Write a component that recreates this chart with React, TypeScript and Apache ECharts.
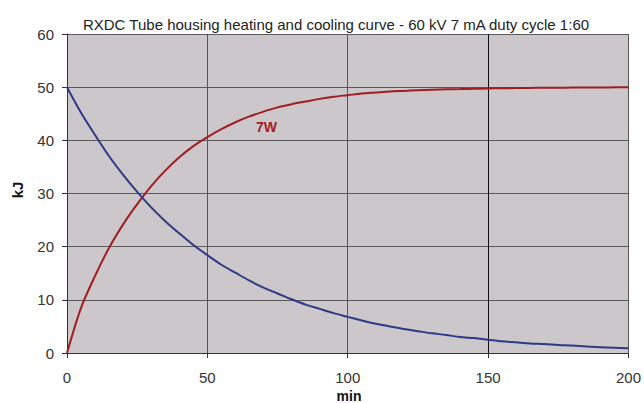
import React, { useEffect, useRef } from "react";
import * as echarts from "echarts";

const title = "RXDC Tube housing heating and cooling curve - 60 kV 7 mA duty cycle 1:60";
const minutes = [0, 5, 10, 15, 20, 25, 30, 35, 40, 45, 50, 55, 60, 65, 70, 75, 80, 85, 90, 95, 100, 105, 110, 115, 120, 125, 130, 135, 140, 145, 150, 155, 160, 165, 170, 175, 180, 185, 190, 195, 200];
const heating = [0, 8.5, 14.5, 19.8, 24.2, 28, 31.4, 34.3, 36.8, 38.9, 40.6, 42.1, 43.4, 44.5, 45.4, 46.2, 46.8, 47.3, 47.8, 48.2, 48.5, 48.8, 49, 49.2, 49.3, 49.4, 49.5, 49.6, 49.65, 49.7, 49.75, 49.8, 49.83, 49.86, 49.88, 49.9, 49.92, 49.94, 49.95, 49.97, 50];
const cooling = [50, 45.2, 41, 37, 33.5, 30.3, 27.4, 24.8, 22.5, 20.3, 18.4, 16.6, 15.1, 13.6, 12.3, 11.2, 10.1, 9.1, 8.3, 7.5, 6.8, 6.1, 5.5, 5, 4.5, 4.1, 3.7, 3.4, 3.0, 2.8, 2.5, 2.2, 2.0, 1.8, 1.7, 1.5, 1.4, 1.2, 1.1, 1.0, 0.9];
const curveLabel = "7W";
const yName = "kJ";
const xName = "min";

export default function App() {
  const ref = useRef<HTMLDivElement>(null);
  useEffect(() => {
    if (!ref.current) return;
    const chart = echarts.init(ref.current, undefined, { renderer: "svg" });
    const font = "Arial, 'Liberation Sans', sans-serif";
    chart.setOption({
      animation: false,
      backgroundColor: "#ffffff",
      grid: {
        left: 67,
        right: 13,
        top: 34,
        bottom: 50,
        show: true,
        backgroundColor: "#cbc7cb",
        borderWidth: 0,
      },
      title: {
        text: title,
        left: 331,
        textAlign: "center",
        top: 12,
        textStyle: { fontFamily: font, fontSize: 15, fontWeight: "normal", color: "#222" },
      },
      xAxis: {
        type: "value",
        min: 0,
        max: 200,
        interval: 50,
        axisLine: { show: true, onZero: false, lineStyle: { color: "#333", width: 1 } },
        axisTick: { show: true, length: 5, lineStyle: { color: "#333" } },
        axisLabel: { fontFamily: font, fontSize: 15, color: "#333", margin: 17 },
        splitLine: { show: true, lineStyle: { color: ["#555", "#555", "#555", "#111", "#555"], width: 1 } },
      },
      yAxis: {
        type: "value",
        min: 0,
        max: 60,
        interval: 10,
        axisLine: { show: true, lineStyle: { color: "#333", width: 1 } },
        axisTick: { show: true, length: 5, lineStyle: { color: "#333" } },
        axisLabel: { fontFamily: font, fontSize: 15, color: "#333", margin: 13 },
        splitLine: { show: true, lineStyle: { color: "#5a5a5a", width: 1 } },
      },
      series: [
        {
          type: "line",
          data: minutes.map((m, i) => [m, heating[i]]),
          smooth: 0.3,
          showSymbol: false,
          lineStyle: { color: "#a01e22", width: 2 },
        },
        {
          type: "line",
          data: minutes.map((m, i) => [m, cooling[i]]),
          smooth: 0.3,
          showSymbol: false,
          lineStyle: { color: "#2e3a86", width: 2 },
        },
      ],
      graphic: [
        {
          type: "text",
          left: 256,
          top: 120,
          style: { text: curveLabel, fontFamily: font, fontSize: 14, fontWeight: "bold", fill: "#a01e22" },
        },
        {
          type: "text",
          x: 17,
          y: 190,
          rotation: Math.PI / 2,
          style: { text: yName, fontFamily: font, fontSize: 15, fontWeight: "bold", fill: "#111", align: "center", verticalAlign: "middle" },
        },
        {
          type: "text",
          x: 349,
          y: 396,
          style: { text: xName, fontFamily: font, fontSize: 14, fontWeight: "bold", fill: "#111", align: "center", verticalAlign: "middle" },
        },
      ],
    });
    return () => chart.dispose();
  }, []);
  return <div ref={ref} style={{ width: 644, height: 403, position: "fixed", left: 0, top: 0 }} />;
}
